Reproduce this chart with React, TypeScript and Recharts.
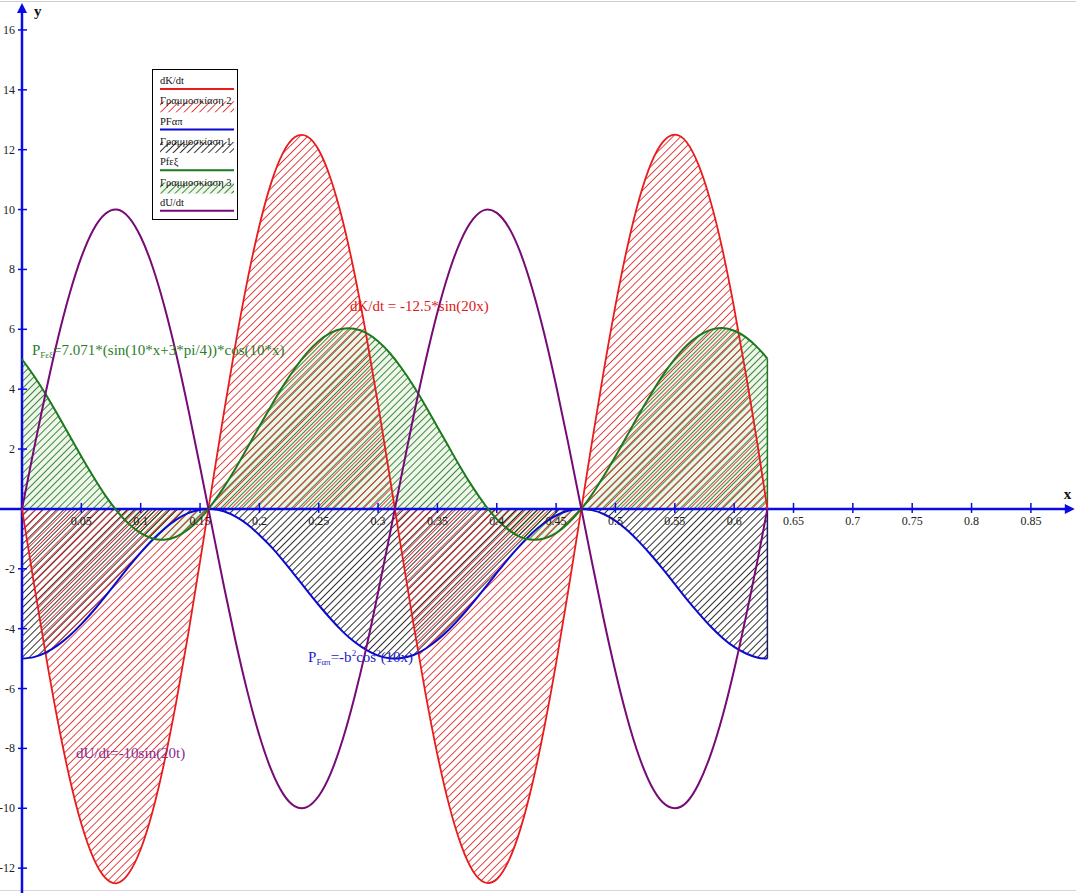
import {
  Area,
  ComposedChart,
  Line,
  ReferenceDot,
  ReferenceLine,
  XAxis,
  YAxis,
} from "recharts";

// sample positions along x (seconds)
const xs = [
  0, 0.01, 0.02, 0.03, 0.04, 0.05, 0.06, 0.07, 0.08, 0.09, 0.1, 0.11, 0.12, 0.13, 0.14, 0.15,
  0.16, 0.17, 0.18, 0.19, 0.2, 0.21, 0.22, 0.23, 0.24, 0.25, 0.26, 0.27, 0.28, 0.29, 0.3, 0.31,
  0.32, 0.33, 0.34, 0.35, 0.36, 0.37, 0.38, 0.39, 0.4, 0.41, 0.42, 0.43, 0.44, 0.45, 0.46, 0.47,
  0.48, 0.49, 0.5, 0.51, 0.52, 0.53, 0.54, 0.55, 0.56, 0.57, 0.58, 0.59, 0.6, 0.61, 0.62, 0.628,
];

// dK/dt (red)
const dKdt = [
  0, -2.48, -4.87, -7.06, -8.97, -10.52, -11.65, -12.32, -12.5, -12.17, -11.37, -10.11, -8.44,
  -6.44, -4.19, -1.76, 0.73, 3.19, 5.53, 7.65, 9.46, 10.9, 11.9, 12.42, 12.45, 11.99, 11.04, 9.66,
  7.89, 5.81, 3.49, 1.04, -1.46, -3.89, -6.18, -8.21, -9.92, -11.23, -12.1, -12.48, -12.37, -11.76,
  -10.68, -9.18, -7.31, -5.15, -2.79, -0.31, 2.18, 4.58, 6.8, 8.75, 10.35, 11.54, 12.26, 12.5, 12.25,
  11.49, 10.29, 8.69, 6.71, 4.48, 2.07, 0,
];

// PFαπ (blue)
const pFap = [
  -5, -4.95, -4.8, -4.56, -4.24, -3.85, -3.41, -2.93, -2.43, -1.93, -1.46, -1.03, -0.66, -0.36,
  -0.14, -0.03, 0, -0.08, -0.26, -0.52, -0.87, -1.27, -1.73, -2.22, -2.72, -3.21, -3.67, -4.09,
  -4.44, -4.71, -4.9, -4.99, -4.98, -4.88, -4.67, -4.38, -4.02, -3.6, -3.13, -2.64, -2.14, -1.65,
  -1.2, -0.8, -0.47, -0.22, -0.06, 0, -0.04, -0.17, -0.4, -0.71, -1.1, -1.54, -2.01, -2.51, -3.01,
  -3.48, -3.92, -4.3, -4.61, -4.83, -4.97, -5,
];

// Pfεξ (green)
const pFex = [
  5, 4.45, 3.83, 3.15, 2.45, 1.75, 1.08, 0.46, -0.07, -0.5, -0.81, -0.99, -1.03, -0.93, -0.69,
  -0.33, 0.15, 0.72, 1.36, 2.05, 2.76, 3.45, 4.11, 4.7, 5.21, 5.61, 5.88, 6.02, 6.02, 5.88, 5.6,
  5.2, 4.69, 4.1, 3.44, 2.74, 2.04, 1.35, 0.71, 0.14, -0.34, -0.7, -0.94, -1.03, -0.99, -0.81,
  -0.49, -0.06, 0.47, 1.09, 1.76, 2.46, 3.17, 3.84, 4.47, 5.01, 5.46, 5.78, 5.98, 6.04, 5.95, 5.73,
  5.38, 5.02,
];

// dU/dt (purple)
const dUdt = [
  0, 1.99, 3.89, 5.65, 7.17, 8.41, 9.32, 9.85, 10, 9.74, 9.09, 8.09, 6.76, 5.16, 3.35, 1.41, -0.58,
  -2.56, -4.43, -6.12, -7.57, -8.72, -9.52, -9.94, -9.96, -9.59, -8.84, -7.73, -6.31, -4.65, -2.79,
  -0.83, 1.17, 3.12, 4.94, 6.57, 7.94, 8.99, 9.68, 9.99, 9.89, 9.41, 8.55, 7.34, 5.85, 4.12, 2.23,
  0.25, -1.74, -3.67, -5.44, -7.0, -8.28, -9.23, -9.81, -10, -9.8, -9.19, -8.23, -6.95, -5.37,
  -3.58, -1.66, 0,
];

const xTicks = [0.05, 0.1, 0.15, 0.2, 0.25, 0.3, 0.35, 0.4, 0.45, 0.5, 0.55, 0.6, 0.65, 0.7, 0.75, 0.8, 0.85];
const xTickLabels = ["0.05", "0.1", "0.15", "0.2", "0.25", "0.3", "0.35", "0.4", "0.45", "0.5", "0.55", "0.6", "0.65", "0.7", "0.75", "0.8", "0.85"];
const yTicks = [-12, -10, -8, -6, -4, -2, 2, 4, 6, 8, 10, 12, 14, 16];
const yTickLabels = ["-12", "-10", "-8", "-6", "-4", "-2", "2", "4", "6", "8", "10", "12", "14", "16"];

const RED = "#e81c1c";
const BLUE = "#0a0ad0";
const GREEN = "#1c7a1c";
const PURPLE = "#760a76";

const legendItems = [
  { label: "dK/dt", kind: "line", color: RED },
  { label: "Γραμμοσκίαση 2", kind: "hatch", color: "url(#hatchRed)" },
  { label: "PFαπ", kind: "line", color: BLUE },
  { label: "Γραμμοσκίαση 1", kind: "hatch", color: "url(#hatchBlack)" },
  { label: "Pfεξ", kind: "line", color: GREEN },
  { label: "Γραμμοσκίαση 3", kind: "hatch", color: "url(#hatchGreen)" },
  { label: "dU/dt", kind: "line", color: PURPLE },
];

const rows = xs.map((x, i) => ({ x, dk: dKdt[i], fap: pFap[i], fex: pFex[i], du: dUdt[i] }));

const W = 1076;
const H = 893;
const X_DOMAIN: [number, number] = [-0.01853, 0.888];
const Y_DOMAIN: [number, number] = [-12.83, 17.0];
const AXIS = "#0a0ae6";
const FONT = "'Liberation Serif', 'Times New Roman', serif";
const last = xs.length - 1;

export default function App() {
  return (
    <div style={{ position: "absolute", left: 0, top: 0, width: W, height: H, background: "#fff", fontFamily: FONT }}>
      {/* hatch patterns, shared by the chart and the legend */}
      <svg width={0} height={0} style={{ position: "absolute" }}>
        <defs>
          <pattern id="hatchRed" width={5.5} height={5.5} patternUnits="userSpaceOnUse" patternTransform="rotate(45)">
            <rect x={0} y={0} width={0.9} height={5.5} fill="#e23232" />
          </pattern>
          <pattern id="hatchBlack" width={5} height={5} patternUnits="userSpaceOnUse" patternTransform="rotate(45)">
            <rect x={0} y={0} width={0.9} height={5} fill="#1a1a1a" />
          </pattern>
          <pattern id="hatchGreen" width={5} height={5} patternUnits="userSpaceOnUse" patternTransform="rotate(45)">
            <rect x={0} y={0} width={5} height={5} fill="#eef7ea" />
            <rect x={0} y={0} width={0.9} height={5} fill="#2a7a2a" />
          </pattern>
        </defs>
      </svg>
      <div style={{ position: "absolute", left: 0, top: 1, width: W, height: 1, background: "#cfcfcf" }} />
      <div style={{ position: "absolute", left: 0, top: 890, width: W, height: 1, background: "#d6d6d6" }} />
      <ComposedChart width={W} height={H} data={rows} margin={{ top: 0, right: 0, bottom: 0, left: 0 }}>
        <XAxis type="number" dataKey="x" domain={X_DOMAIN} allowDataOverflow hide />
        <YAxis type="number" domain={Y_DOMAIN} allowDataOverflow hide />

        <Area type="natural" dataKey="fex" baseValue={0} stroke="none" fill="url(#hatchGreen)" fillOpacity={1} isAnimationActive={false} activeDot={false} />
        <Area type="natural" dataKey="fap" baseValue={0} stroke="none" fill="url(#hatchBlack)" fillOpacity={1} isAnimationActive={false} activeDot={false} />
        <Area type="natural" dataKey="dk" baseValue={0} stroke="none" fill="url(#hatchRed)" fillOpacity={1} isAnimationActive={false} activeDot={false} />

        <ReferenceLine segment={[{ x: xs[last], y: 0 }, { x: xs[last], y: pFex[last] }]} stroke={GREEN} strokeWidth={1.5} />
        <ReferenceLine segment={[{ x: xs[last], y: 0 }, { x: xs[last], y: pFap[last] }]} stroke="#1a1a60" strokeWidth={1.5} />

        {/* axes through the origin */}
        <ReferenceLine segment={[{ x: X_DOMAIN[0], y: 0 }, { x: 0.881, y: 0 }]} stroke={AXIS} strokeWidth={2.5} ifOverflow="visible" />
        <ReferenceLine segment={[{ x: 0, y: Y_DOMAIN[0] }, { x: 0, y: 16.7 }]} stroke={AXIS} strokeWidth={2.5} ifOverflow="visible" />

        <Line type="natural" dataKey="dk" stroke={RED} strokeWidth={1.8} dot={false} activeDot={false} isAnimationActive={false} />
        <Line type="natural" dataKey="fap" stroke={BLUE} strokeWidth={2} dot={false} activeDot={false} isAnimationActive={false} />
        <Line type="natural" dataKey="fex" stroke={GREEN} strokeWidth={2} dot={false} activeDot={false} isAnimationActive={false} />
        <Line type="natural" dataKey="du" stroke={PURPLE} strokeWidth={2} dot={false} activeDot={false} isAnimationActive={false} />

        {xTicks.map((t, i) => (
          <ReferenceDot
            key={"xt" + t}
            x={t}
            y={0}
            ifOverflow="visible"
            shape={(p: any) => (
              <g>
                <line x1={p.cx} x2={p.cx} y1={p.cy - 6} y2={p.cy + 4} stroke={AXIS} strokeWidth={1.5} />
                <text x={p.cx} y={p.cy + 16} textAnchor="middle" fontSize={12} fontFamily={FONT} fill="#222">
                  {xTickLabels[i]}
                </text>
              </g>
            )}
          />
        ))}
        {yTicks.map((t, i) => (
          <ReferenceDot
            key={"yt" + t}
            x={0}
            y={t}
            ifOverflow="visible"
            shape={(p: any) => (
              <g>
                <line x1={p.cx - 4} x2={p.cx + 5} y1={p.cy} y2={p.cy} stroke={AXIS} strokeWidth={1.5} />
                <text x={p.cx - 7} y={p.cy + 4} textAnchor="end" fontSize={12} fontFamily={FONT} fill="#222">
                  {yTickLabels[i]}
                </text>
              </g>
            )}
          />
        ))}

        {/* arrows and axis names */}
        <ReferenceDot
          x={0}
          y={16.9}
          ifOverflow="visible"
          shape={(p: any) => (
            <g>
              <polygon points={`${p.cx},${p.cy} ${p.cx - 5},${p.cy + 10} ${p.cx + 5},${p.cy + 10}`} fill={AXIS} />
              <text x={p.cx + 12} y={p.cy + 13} fontSize={15} fontWeight="bold" fontFamily={FONT} fill="#111">y</text>
            </g>
          )}
        />
        <ReferenceDot
          x={0.887}
          y={0}
          ifOverflow="visible"
          shape={(p: any) => (
            <g>
              <polygon points={`${p.cx},${p.cy} ${p.cx - 10},${p.cy - 5} ${p.cx - 10},${p.cy + 5}`} fill={AXIS} />
              <text x={p.cx - 11} y={p.cy - 10} fontSize={15} fontWeight="bold" fontFamily={FONT} fill="#111">x</text>
            </g>
          )}
        />

        {/* formula annotations */}
        <ReferenceDot
          x={0.2763}
          y={6.61}
          ifOverflow="visible"
          shape={(p: any) => (
            <text x={p.cx} y={p.cy} fontSize={15} fontFamily={FONT} fill="#e01818">
              dK/dt = -12.5*sin(20x)
            </text>
          )}
        />
        <ReferenceDot
          x={0.0084}
          y={5.14}
          ifOverflow="visible"
          shape={(p: any) => (
            <text x={p.cx} y={p.cy} fontSize={15} fontFamily={FONT} fill="#2b7d2b">
              P<tspan fontSize={9} dy={3}>Fεξ</tspan>
              <tspan dy={-3}>=7.071*(sin(10*x+3*pi/4))*cos(10*x)</tspan>
            </text>
          )}
        />
        <ReferenceDot
          x={0.241}
          y={-5.11}
          ifOverflow="visible"
          shape={(p: any) => (
            <text x={p.cx} y={p.cy} fontSize={15} fontFamily={FONT} fill="#1c1cc8">
              P<tspan fontSize={9} dy={3}>Fαπ</tspan>
              <tspan dy={-3}>=-b</tspan>
              <tspan fontSize={9} dy={-6}>2</tspan>
              <tspan dy={6}>cos</tspan>
              <tspan fontSize={9} dy={-6}>2</tspan>
              <tspan dy={6}>(10x)</tspan>
            </text>
          )}
        />
        <ReferenceDot
          x={0.0455}
          y={-8.32}
          ifOverflow="visible"
          shape={(p: any) => (
            <text x={p.cx} y={p.cy} fontSize={15} fontFamily={FONT} fill="#8e2a8e">
              dU/dt=-10sin(20t)
            </text>
          )}
        />
      </ComposedChart>

      {/* legend box */}
      <svg width={W} height={H} style={{ position: "absolute", left: 0, top: 0, pointerEvents: "none" }}>
        <rect x={152.5} y={69.5} width={85} height={150} fill="#fff" stroke="#000" strokeWidth={1} />
        {legendItems.map((it, i) => {
          const base = 84 + i * 20.3;
          return (
            <g key={it.label}>
              {it.kind === "hatch" && (
                <rect x={160} y={base - 3} width={74} height={11} fill={it.color} />
              )}
              <text x={160} y={base} fontSize={10.5} fontFamily={FONT} fill="#111">
                {it.label}
              </text>
              {it.kind === "line" && (
                <line x1={160} x2={234} y1={base + 5} y2={base + 5} stroke={it.color} strokeWidth={2} />
              )}
            </g>
          );
        })}
      </svg>
    </div>
  );
}
